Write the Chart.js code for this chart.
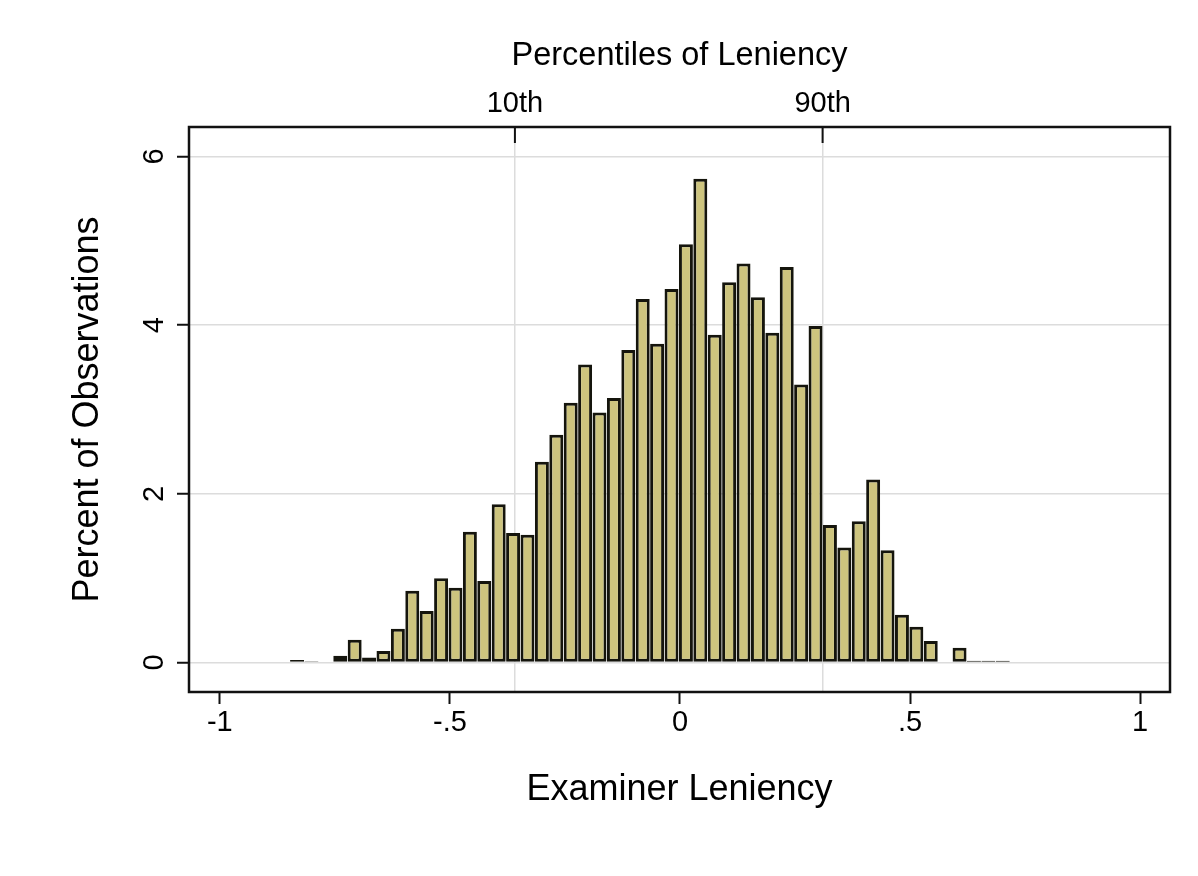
<!DOCTYPE html>
<html>
<head>
<meta charset="utf-8">
<script src="https://cdn.jsdelivr.net/npm/chart.js@4.4.1/dist/chart.umd.min.js"></script>
<style>
  html, body { margin: 0; padding: 0; background: #fff; }
  #wrap { width: 1198px; height: 876px; }
</style>
</head>
<body>
<div id="wrap"><canvas id="histChart" width="1198" height="876"></canvas></div>
<script>
// histogram bins (left edge of first bin, bin width)
const BIN_START = -0.8478;
const BIN_WIDTH = 0.0313;

// percent of observations in each bin
const percentValues = [
  0.03, 0.015, 0.01, 0.08, 0.27, 0.06, 0.135, 0.40, 0.85, 0.61,
  1.00, 0.885, 1.55, 0.965, 1.875, 1.535, 1.515, 2.38, 2.70, 3.08,
  3.535, 2.965, 3.135, 3.705, 4.31, 3.78, 4.43, 4.96, 5.735, 3.885,
  4.51, 4.73, 4.33, 3.91, 4.69, 3.295, 3.99, 1.63, 1.365, 1.675,
  2.17, 1.33, 0.565, 0.425, 0.255, 0.01, 0.175, 0.02, 0.02, 0.02
];

const xTicks = [-1, -0.5, 0, 0.5, 1];
const xTickLabels = ["-1", "-.5", "0", ".5", "1"];
const yTicks = [0, 2, 4, 6];
const yTickLabels = ["0", "2", "4", "6"];
const pctTicks = [-0.3587, 0.310];
const pctTickLabels = ["10th", "90th"];

const FONT = '"Liberation Sans", Arial, Helvetica, sans-serif';
Chart.defaults.font.family = FONT;
Chart.defaults.color = "#000";

const barData = percentValues.map((v, i) => ({ x: BIN_START + BIN_WIDTH * (i + 0.5), y: v }));

// frame, inward top ticks and rotated y labels
const frameAndLabels = {
  id: "frameAndLabels",
  afterDraw(chart) {
    const { ctx, chartArea: a, scales } = chart;
    ctx.save();
    ctx.fillStyle = "#000";
    ctx.font = "29px " + FONT;
    ctx.textAlign = "center";
    ctx.textBaseline = "middle";
    yTicks.forEach((v, i) => {
      const py = scales.y.getPixelForValue(v);
      ctx.save();
      ctx.translate(a.left - 34, py);
      ctx.rotate(-Math.PI / 2);
      ctx.fillText(yTickLabels[i], 0, 0);
      ctx.restore();
    });

    ctx.strokeStyle = "#111";
    ctx.lineWidth = 2;
    pctTicks.forEach(v => {
      const px = scales.x2.getPixelForValue(v);
      ctx.beginPath();
      ctx.moveTo(px, a.top);
      ctx.lineTo(px, a.top + 16);
      ctx.stroke();
    });

    ctx.lineWidth = 2.5;
    ctx.strokeRect(a.left, a.top, a.right - a.left, a.bottom - a.top);
    ctx.restore();
  }
};

new Chart(document.getElementById("histChart").getContext("2d"), {
  type: "bar",
  data: {
    datasets: [{
      data: barData,
      backgroundColor: "#cdc47e",
      borderColor: "#15150d",
      borderWidth: 3,
      borderSkipped: false,
      barPercentage: 0.97,
      categoryPercentage: 1
    }]
  },
  options: {
    responsive: false,
    animation: false,
    layout: { padding: { left: 0, right: 28, top: 0, bottom: 0 } },
    plugins: {
      legend: { display: false },
      tooltip: { enabled: false }
    },
    scales: {
      x: {
        type: "linear",
        position: "bottom",
        min: -1.067,
        max: 1.065,
        offset: false,
        afterBuildTicks: s => { s.ticks = xTicks.map(v => ({ value: v })); },
        afterFit: s => { s.height = 184; },
        ticks: {
          autoSkip: false,
          maxRotation: 0,
          padding: 2,
          font: { size: 29 },
          color: "#000",
          callback: (v) => xTickLabels[xTicks.indexOf(v)]
        },
        grid: {
          offset: false,
          drawOnChartArea: false,
          drawTicks: true,
          tickLength: 12,
          tickColor: "#111",
          tickWidth: 2
        },
        border: { display: false },
        title: {
          display: true,
          text: "Examiner Leniency",
          font: { size: 36 },
          color: "#000",
          padding: { top: 0, bottom: 64 }
        }
      },
      x2: {
        type: "linear",
        position: "top",
        min: -1.067,
        max: 1.065,
        offset: false,
        afterBuildTicks: s => { s.ticks = pctTicks.map(v => ({ value: v })); },
        afterFit: s => { s.height = 127; },
        ticks: {
          autoSkip: false,
          maxRotation: 0,
          padding: 6,
          font: { size: 29 },
          color: "#000",
          callback: (v) => pctTickLabels[pctTicks.indexOf(v)]
        },
        grid: {
          offset: false,
          drawOnChartArea: true,
          drawTicks: false,
          color: "#dcdcdc",
          lineWidth: 1.5
        },
        border: { display: false },
        title: {
          display: true,
          text: "Percentiles of Leniency",
          font: { size: 32.5 },
          color: "#000",
          padding: { top: 37, bottom: 0 }
        }
      },
      y: {
        type: "linear",
        position: "left",
        min: -0.35,
        max: 6.35,
        afterBuildTicks: s => { s.ticks = yTicks.map(v => ({ value: v })); },
        afterFit: s => { s.width = 189; },
        ticks: { display: false },
        grid: {
          drawOnChartArea: true,
          drawTicks: true,
          tickLength: 12,
          color: "#dcdcdc",
          lineWidth: 1.5,
          tickColor: "#111",
          tickWidth: 2
        },
        border: { display: false },
        title: {
          display: true,
          text: "Percent of Observations",
          font: { size: 36 },
          color: "#000",
          padding: { top: 66, bottom: 0 }
        }
      }
    }
  },
  plugins: [frameAndLabels]
});
</script>
</body>
</html>
